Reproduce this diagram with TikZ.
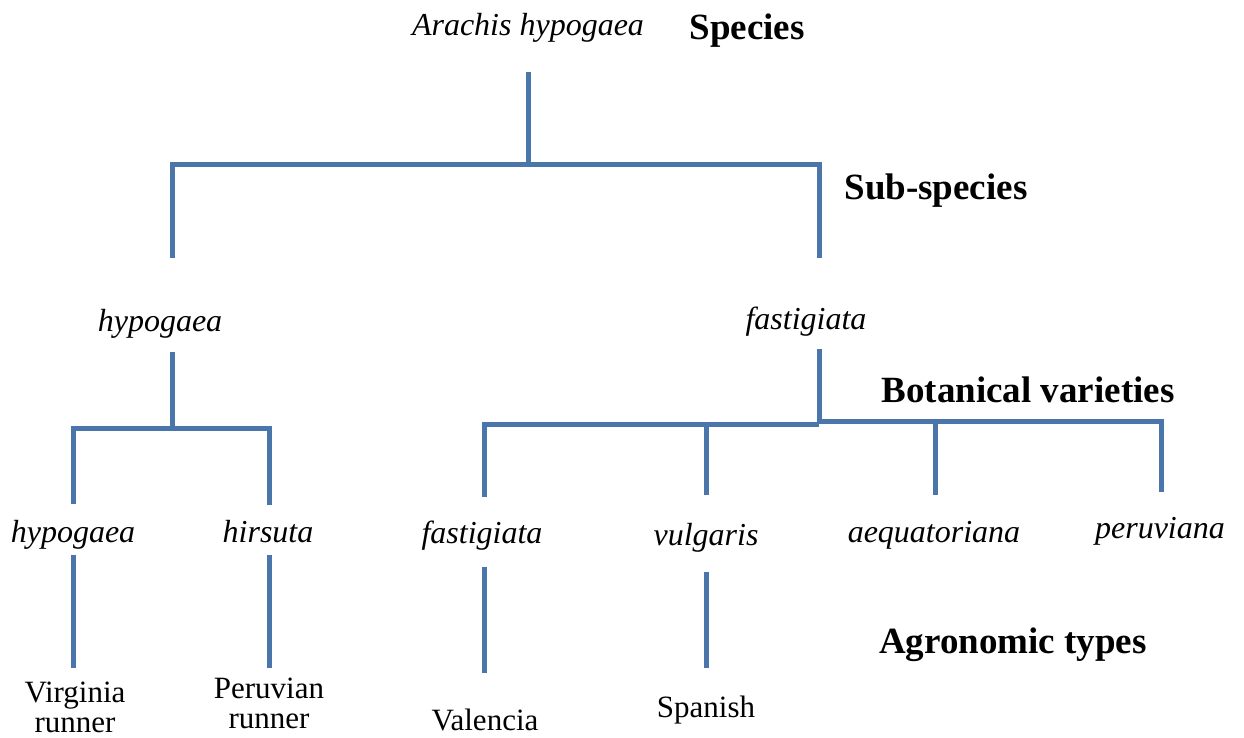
\documentclass[tikz,border=0pt]{standalone}
\usepackage{fontspec}
\setmainfont{Liberation Serif}
\definecolor{lineblue}{RGB}{74,118,172}

\begin{document}
\begin{tikzpicture}[x=0.5pt, y=-0.5pt,
    branch/.style={draw=lineblue, line width=2.5pt},
    taxon/.style={font=\fontsize{16}{18}\selectfont\itshape, anchor=base, inner sep=0pt},
    rank/.style={font=\fontsize{18.5}{20}\selectfont\bfseries, anchor=base, inner sep=0pt},
    crop/.style={font=\fontsize{15.5}{15}\selectfont, align=center, anchor=base, inner sep=0pt}]
    \useasboundingbox (0,0) rectangle (1244,738);

    % Species
    \node[taxon] (arachis) at (528,36) {Arachis hypogaea};
    \node[rank] (species) at (747,40) {Species};
    \coordinate (spTop) at (528,72);
    \coordinate (spBar) at (528,165);
    \draw[branch] (spTop) -- (spBar);
    \draw[branch] (172,258) |- (819,165) -- (819,258);
    \node[rank] (subsp) at (936,199) {Sub-species};

    % Sub-species hypogaea and its varieties
    \node[taxon] (sspHyp) at (160,331) {hypogaea};
    \coordinate (hypTop) at (172,352);
    \coordinate (hypBar) at (172,428);
    \draw[branch] (hypTop) -- (hypBar);
    \draw[branch] (73,504) |- (269,428) -- (269,505);
    \node[taxon] (varHyp) at (73,542) {hypogaea};
    \node[taxon] (varHir) at (268,542) {hirsuta};
    \draw[branch] (73,555) -- (73,668);
    \draw[branch] (269,555) -- (269,668);
    \node[crop] (virginia) at (75,732) {Virginia\\runner};
    \node[crop] (peruvian) at (269,728) {Peruvian\\runner};

    % Sub-species fastigiata and its varieties
    \node[taxon] (sspFas) at (806,329) {fastigiata};
    \coordinate (fasTop) at (819,349);
    \coordinate (fasBar) at (819,423);
    \draw[branch] (fasTop) -- (fasBar);
    \draw[branch] (484,497) |- (819,424);
    \draw[branch] (819,421) -| (1161,492);
    \draw[branch] (706,424) -- (706,495);
    \draw[branch] (935,421) -- (935,495);
    \node[rank] (botvar) at (1028,402) {Botanical varieties};
    \node[taxon] (varFas) at (482,543) {fastigiata};
    \node[taxon] (varVul) at (706,545) {vulgaris};
    \node[taxon] (varAeq) at (934,542) {aequatoriana};
    \node[taxon] (varPer) at (1160,538) {peruviana};

    % Agronomic types
    \draw[branch] (484,567) -- (484,673);
    \draw[branch] (706,572) -- (706,668);
    \node[rank] (agro) at (1013,653) {Agronomic types};
    \node[crop] (valencia) at (485,730) {Valencia};
    \node[crop] (spanish) at (706,717) {Spanish};
\end{tikzpicture}
\end{document}
